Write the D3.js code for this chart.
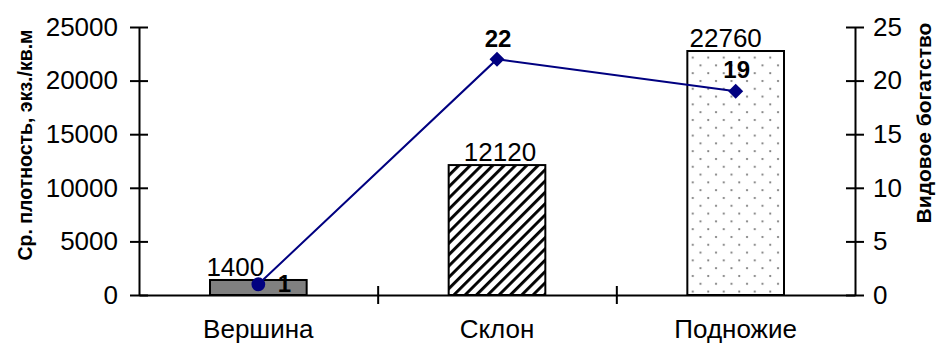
<!DOCTYPE html>
<html>
<head>
<meta charset="utf-8">
<script src="https://cdn.jsdelivr.net/npm/d3@7"></script>
<style>
  html, body { margin: 0; padding: 0; background: #fff; }
  svg { display: block; font-family: "Liberation Sans", Arial, sans-serif; }
</style>
</head>
<body>
<svg id="chart" width="938" height="345"></svg>
<script>
const categories = ["Вершина", "Склон", "Подножие"];
const density = [1400, 12120, 22760];
const richness = [1, 22, 19];
const leftTicks = [0, 5000, 10000, 15000, 20000, 25000];
const rightTicks = [0, 5, 10, 15, 20, 25];
const leftTitle = "Ср. плотность, экз./кв.м";
const rightTitle = "Видовое богатство";

const svg = d3.select("#chart");
const plot = { left: 139, right: 855, top: 27, bottom: 295 };
const FS = "26px";

const x = d3.scaleBand().domain(categories).range([plot.left, plot.right]).paddingInner(0).paddingOuter(0);
const yL = d3.scaleLinear().domain([0, 25000]).range([plot.bottom, plot.top]);
const yR = d3.scaleLinear().domain([0, 25]).range([plot.bottom, plot.top]);
const barW = x.bandwidth() * 0.405;

// patterns
const defs = svg.append("defs");
const hatch = defs.append("pattern").attr("id", "hatch").attr("patternUnits", "userSpaceOnUse")
  .attr("width", 8).attr("height", 8).attr("patternTransform", "rotate(45)");
hatch.append("rect").attr("width", 8).attr("height", 8).attr("fill", "#fff");
hatch.append("rect").attr("x", 0).attr("y", 0).attr("width", 2.9).attr("height", 8).attr("fill", "#000");

const dots = defs.append("pattern").attr("id", "dots").attr("patternUnits", "userSpaceOnUse")
  .attr("width", 15.5).attr("height", 15.6);
dots.append("rect").attr("width", 15.5).attr("height", 15.6).attr("fill", "#fff");
dots.append("circle").attr("cx", 3).attr("cy", 3).attr("r", 1.1).attr("fill", "#777");
dots.append("circle").attr("cx", 10.75).attr("cy", 10.8).attr("r", 1.1).attr("fill", "#777");

const fills = ["#808080", "url(#hatch)", "url(#dots)"];

// bars
svg.append("g").selectAll("rect").data(categories).join("rect")
  .attr("x", d => x(d) + x.bandwidth() / 2 - barW / 2)
  .attr("y", (d, i) => yL(density[i]))
  .attr("width", barW)
  .attr("height", (d, i) => yL(0) - yL(density[i]))
  .attr("fill", (d, i) => fills[i])
  .attr("stroke", "#000")
  .attr("stroke-width", 2);

// axes
const tickLen = 9;
const axL = d3.axisLeft(yL).tickValues(leftTicks).tickFormat(d3.format("d"))
  .tickSizeInner(tickLen).tickSizeOuter(0).tickPadding(12);
const gL = svg.append("g").attr("transform", `translate(${plot.left},0)`).call(axL);
gL.selectAll(".tick line").attr("x2", -tickLen).attr("x1", tickLen);
const axR = d3.axisRight(yR).tickValues(rightTicks).tickFormat(d3.format("d"))
  .tickSizeInner(tickLen).tickSizeOuter(0).tickPadding(9);
const gR = svg.append("g").attr("transform", `translate(${plot.right},0)`).call(axR);
gR.selectAll(".tick line").attr("x1", -tickLen).attr("x2", tickLen);

const xEdges = d3.axisBottom(d3.scaleLinear().domain([0, 3]).range([plot.left, plot.right]))
  .tickValues([1, 2]).tickSizeInner(tickLen).tickSizeOuter(0).tickFormat("");
const gX = svg.append("g").attr("transform", `translate(0,${plot.bottom})`).call(xEdges);
gX.selectAll(".tick line").attr("y1", -tickLen).attr("y2", tickLen);

[gL, gR, gX].forEach(g => {
  g.select(".domain").attr("stroke", "#000").attr("stroke-width", 2);
  g.selectAll(".tick line").attr("stroke", "#000").attr("stroke-width", 2);
  g.selectAll(".tick text").attr("fill", "#000")
    .style("font-size", FS).style("font-family", "'Liberation Sans', Arial, sans-serif");
});

// category labels
svg.append("g").selectAll("text").data(categories).join("text")
  .attr("x", d => x(d) + x.bandwidth() / 2)
  .attr("y", 338)
  .attr("text-anchor", "middle")
  .style("font-size", FS)
  .text(d => d);

// bar value labels
const barLabelDx = [-23, 3, -10];
svg.append("g").selectAll("text").data(density).join("text")
  .attr("x", (d, i) => x(categories[i]) + x.bandwidth() / 2 + barLabelDx[i])
  .attr("y", d => yL(d) - 4)
  .attr("text-anchor", "middle")
  .style("font-size", FS)
  .text(d => d);

// line
const pts = categories.map((c, i) => [x(c) + x.bandwidth() / 2, yR(richness[i])]);
svg.append("path").attr("d", d3.line()(pts)).attr("fill", "none").attr("stroke", "#000080").attr("stroke-width", 2);

svg.append("g").selectAll("path").data(pts).join("path")
  .attr("transform", d => `translate(${d[0]},${d[1]})`)
  .attr("d", (d, i) => i === 0 ? d3.symbol(d3.symbolCircle, 150)() : "M0,-7.5L7.5,0L0,7.5L-7.5,0Z")
  .attr("fill", "#000080");

// line value labels
const lblOff = [[26, 8], [1, -12], [1, -13]];
svg.append("g").selectAll("text").data(richness).join("text")
  .attr("x", (d, i) => pts[i][0] + lblOff[i][0])
  .attr("y", (d, i) => pts[i][1] + lblOff[i][1])
  .attr("text-anchor", "middle")
  .style("font-size", "24px")
  .style("font-weight", "bold")
  .text(d => d);

// axis titles
svg.append("text").attr("transform", `translate(32,145) rotate(-90)`)
  .attr("text-anchor", "middle").style("font-size", "19.5px").style("font-weight", "bold").text(leftTitle);
svg.append("text").attr("transform", `translate(931,123) rotate(-90)`)
  .attr("text-anchor", "middle").style("font-size", "21px").style("font-weight", "bold").text(rightTitle);
</script>
</body>
</html>
